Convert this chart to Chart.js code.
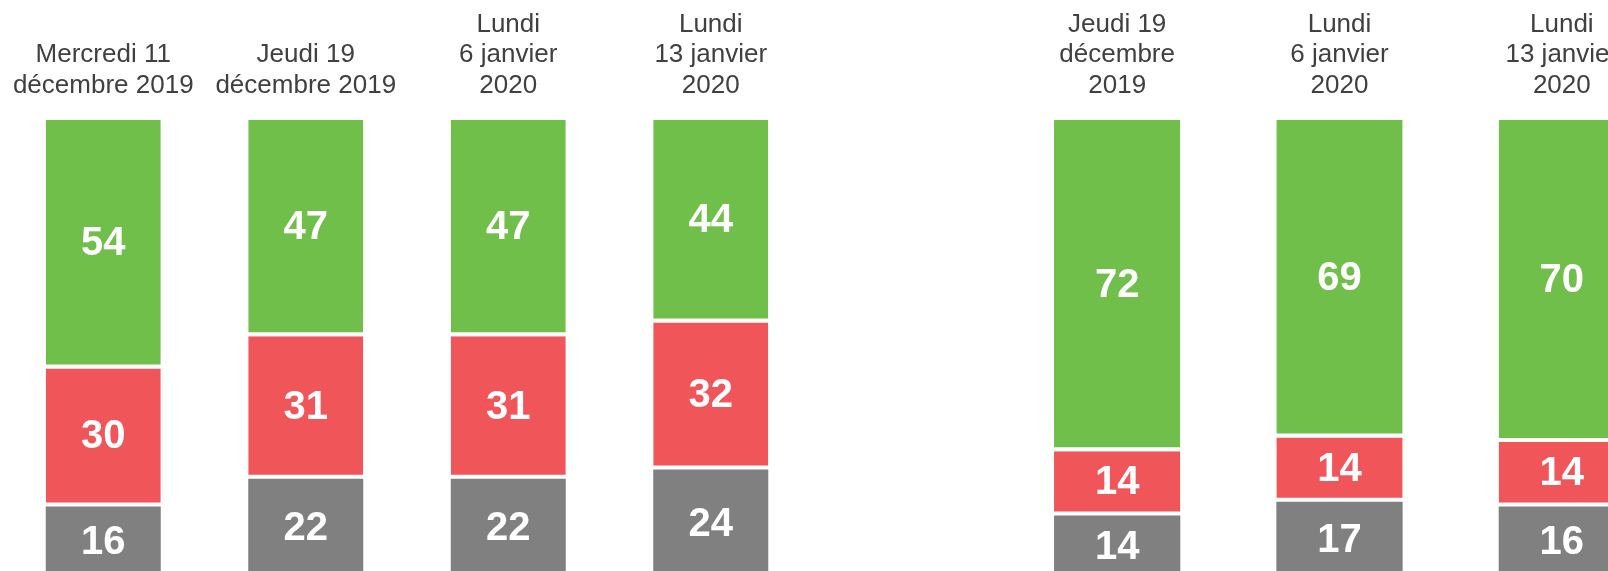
<!DOCTYPE html>
<html>
<head>
<meta charset="utf-8">
<script src="https://cdn.jsdelivr.net/npm/chart.js@4/dist/chart.umd.min.js"></script>
<style>
  html, body { margin: 0; padding: 0; overflow: hidden; background: #fff; width: 1608px; height: 571px; }
  .box { position: absolute; top: 0; }
</style>
</head>
<body>
<div class="box" style="left:2px"><canvas id="gauche" width="810" height="580"></canvas></div>
<div class="box" style="left:1006px"><canvas id="droite" width="667" height="580"></canvas></div>
<script>
const datesGauche = [
  ['Mercredi 11', 'décembre 2019'],
  ['Jeudi 19', 'décembre 2019'],
  ['Lundi', '6 janvier', '2020'],
  ['Lundi', '13 janvier', '2020']
];
const vertGauche = [54, 47, 47, 44];
const rougeGauche = [30, 31, 31, 32];
const grisGauche = [16, 22, 22, 24];

const datesDroite = [
  ['Jeudi 19', 'décembre', '2019'],
  ['Lundi', '6 janvier', '2020'],
  ['Lundi', '13 janvier', '2020']
];
const vertDroite = [72, 69, 70];
const rougeDroite = [14, 14, 14];
const grisDroite = [14, 17, 16];

const VERT = '#70bf4a';
const ROUGE = '#f0555a';
const GRIS = '#808080';
const POLICE = '"Liberation Sans", Arial, sans-serif';

// valeurs en blanc au milieu de chaque segment
const etiquettes = {
  id: 'etiquettes',
  afterDatasetsDraw(chart) {
    const ctx = chart.ctx;
    ctx.save();
    ctx.fillStyle = '#ffffff';
    ctx.font = 'bold 40px ' + POLICE;
    ctx.textAlign = 'center';
    ctx.textBaseline = 'middle';
    chart.data.datasets.forEach((ds, i) => {
      chart.getDatasetMeta(i).data.forEach((bar, j) => {
        const p = bar.getProps(['x', 'y', 'base'], true);
        ctx.fillText(String(ds.data[j]), p.x, (p.y + p.base) / 2);
      });
    });
    ctx.restore();
  }
};

function dessiner(id, dates, vert, rouge, gris) {
  const trait = { top: 0, right: 0, bottom: 4, left: 0 };
  new Chart(document.getElementById(id), {
    type: 'bar',
    data: {
      labels: dates,
      datasets: [
        { label: 'gris', data: gris, backgroundColor: GRIS, borderWidth: 0 },
        { label: 'rouge', data: rouge, backgroundColor: ROUGE, borderColor: '#ffffff', borderWidth: trait, borderSkipped: false },
        { label: 'vert', data: vert, backgroundColor: VERT, borderColor: '#ffffff', borderWidth: trait, borderSkipped: false }
      ]
    },
    options: {
      responsive: false,
      animation: false,
      events: [],
      layout: { padding: 0 },
      datasets: { bar: { barPercentage: 1, categoryPercentage: 0.568 } },
      plugins: { legend: { display: false }, tooltip: { enabled: false } },
      scales: {
        x: {
          stacked: true,
          position: 'top',
          grid: { display: false, drawTicks: false },
          border: { display: false },
          ticks: {
            autoSkip: false,
            maxRotation: 0,
            padding: 19,
            color: '#404040',
            font: { family: POLICE, size: 26, lineHeight: '30.5px' }
          },
          afterFit(scale) {
            scale.height = 120;
            scale.paddingLeft = 0;
            scale.paddingRight = 0;
          }
        },
        y: { stacked: true, display: false, min: 0, max: 100 }
      }
    },
    plugins: [etiquettes]
  });
}

dessiner('gauche', datesGauche, vertGauche, rougeGauche, grisGauche);
dessiner('droite', datesDroite, vertDroite, rougeDroite, grisDroite);
</script>
</body>
</html>
